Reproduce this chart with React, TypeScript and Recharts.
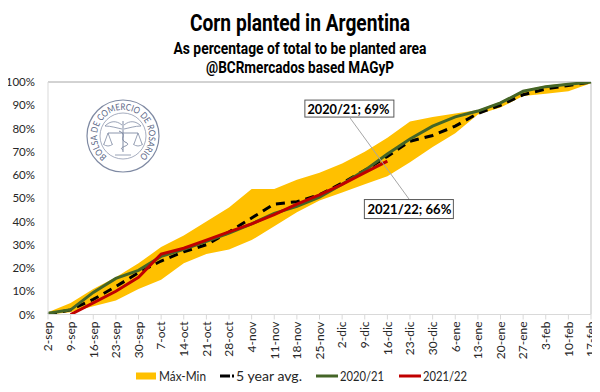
import React from 'react';
import { ComposedChart, Area, Line, XAxis, YAxis, ReferenceLine } from 'recharts';

const categories = ['2-sep','9-sep','16-sep','23-sep','30-sep','7-oct','14-oct','21-oct','28-oct','4-nov','11-nov','18-nov','25-nov','2-dic','9-dic','16-dic','23-dic','30-dic','6-ene','13-ene','20-ene','27-ene','3-feb','10-feb','17-feb'];
const maxValues = [1, 5, 11, 16, 22, 29, 34, 40, 46, 54, 54, 58, 61, 65, 70, 76, 83, 85, 86.5, 88, 91.5, 96.5, 98.5, 99.5, 100];
const minValues = [0, 1, 3.5, 6, 11, 15, 22, 26, 28, 32, 38, 44, 49, 52.5, 56, 59.5, 65.5, 72, 78, 86, 89, 94, 95, 96, 99.5];
const avgValues = [0, 2, 6.5, 12, 18, 23, 27, 30, 35.5, 41.5, 47.5, 48.5, 51.5, 56.5, 62, 68, 74.5, 77, 81, 86.5, 90, 94.5, 97, 98.5, 100];
const season2021 = [0.5, 2, 9.5, 15.5, 19, 25, 28, 31.5, 35, 39, 43.5, 46.5, 50.5, 56, 62, 69, 75.5, 81, 85, 87.5, 91, 96, 98, 99, 100];
const season2122: (number | null)[] = [null, 0, 5, 10, 16, 26, 28.5, 32, 35.5, 39, 43, 47.5, 51.5, 56, 61, 66, null, null, null, null, null, null, null, null, null];
const yTicks = [0, 10, 20, 30, 40, 50, 60, 70, 80, 90, 100];

const labelGreen = '2020/21; 69%';
const labelRed = '2021/22; 66%';

const data = categories.map((c, i) => ({
  label: c,
  range: [minValues[i], maxValues[i]],
  avg: avgValues[i],
  s2021: season2021[i],
  s2122: season2122[i],
}));

const ORANGE = '#FFC000';
const GREEN = '#446527';
const RED = '#C00000';
const FONT = 'Lato, "Open Sans", sans-serif';

const getXY = (p: any) => {
  const x = p.x ?? p.viewBox?.x;
  const y = p.y ?? p.viewBox?.y;
  return { x, y };
};

const GreenLabel = (p: any) => {
  if (p.value !== 69) return null;
  const { x, y } = getXY(p);
  if (x == null || y == null) return null;
  return (
    <g>
      <rect x={x - 82.5} y={y - 54} width={89} height={17} fill="#fff" stroke="#595959" strokeWidth={1} />
      <text x={x - 80} y={y - 40.5} fontFamily={FONT} fontWeight={700} fontSize={13} fill="#000" textLength={82} lengthAdjust="spacingAndGlyphs">{labelGreen}</text>
    </g>
  );
};

const RedLabel = (p: any) => {
  if (p.value !== 66) return null;
  const { x, y } = getXY(p);
  if (x == null || y == null) return null;
  return (
    <g>
      <line x1={x + 22} y1={y + 38.5} x2={x - 38} y2={y - 44} stroke="#A6A6A6" strokeWidth={1} />
      <rect x={x - 23} y={y + 38.5} width={89} height={19} fill="#fff" stroke="#595959" strokeWidth={1} />
      <text x={x - 20} y={y + 52.5} fontFamily={FONT} fontWeight={700} fontSize={13.5} fill="#000" textLength={84} lengthAdjust="spacingAndGlyphs">{labelRed}</text>
    </g>
  );
};

const XTick = (p: any) => {
  const { x, y, payload } = p;
  return (
    <g transform={`translate(${x},${y})`}>
      <text transform="rotate(-90)" x={0} y={0} dy="0.36em" textAnchor="end" fontFamily={FONT} fontSize={12} fill="#262626">
        {payload.value}
      </text>
    </g>
  );
};

const Logo = () => {
  const cx = 123, cy = 136, r = 26;
  const a = (142 * Math.PI) / 180;
  const sx = cx - Math.sin(a) * r, sy = cy - Math.cos(a) * r;
  const ex = cx + Math.sin(a) * r, ey = sy;
  const c = '#7f8aa3';
  return (
    <g>
      <defs>
        <path id="logoArc" d={`M ${sx} ${sy} A ${r} ${r} 0 1 1 ${ex} ${ey}`} />
      </defs>
      <circle cx={cx} cy={cy} r={36} fill="none" stroke={c} strokeWidth={1.2} />
      <circle cx={cx} cy={cy} r={23} fill="none" stroke={c} strokeWidth={0.7} />
      <text fontFamily={FONT} fontSize={9.2} fill="#5a6685">
        <textPath href="#logoArc" textLength={128} lengthAdjust="spacingAndGlyphs">BOLSA DE COMERCIO DE ROSARIO</textPath>
      </text>
      <line x1={cx} y1={cy - 15} x2={cx} y2={cy + 16} stroke={c} strokeWidth={1} />
      <path d={`M ${cx - 1} ${cy - 11} C ${cx - 7} ${cy - 16}, ${cx - 13} ${cy - 15}, ${cx - 18} ${cy - 10} C ${cx - 12} ${cy - 10}, ${cx - 6} ${cy - 8}, ${cx - 1} ${cy - 7}`} fill="none" stroke={c} strokeWidth={0.8} />
      <path d={`M ${cx + 1} ${cy - 11} C ${cx + 7} ${cy - 16}, ${cx + 13} ${cy - 15}, ${cx + 18} ${cy - 10} C ${cx + 12} ${cy - 10}, ${cx + 6} ${cy - 8}, ${cx + 1} ${cy - 7}`} fill="none" stroke={c} strokeWidth={0.8} />
      <line x1={cx - 15} y1={cy - 3} x2={cx + 15} y2={cy - 3} stroke={c} strokeWidth={0.9} />
      <path d={`M ${cx - 15} ${cy - 3} L ${cx - 19} ${cy + 8} M ${cx - 15} ${cy - 3} L ${cx - 11} ${cy + 8} M ${cx - 20} ${cy + 8} Q ${cx - 15} ${cy + 12} ${cx - 10} ${cy + 8}`} fill="none" stroke={c} strokeWidth={0.8} />
      <path d={`M ${cx + 15} ${cy - 3} L ${cx + 11} ${cy + 8} M ${cx + 15} ${cy - 3} L ${cx + 19} ${cy + 8} M ${cx + 10} ${cy + 8} Q ${cx + 15} ${cy + 12} ${cx + 20} ${cy + 8}`} fill="none" stroke={c} strokeWidth={0.8} />
      <path d={`M ${cx - 4} ${cy - 5} C ${cx + 6} ${cy - 1}, ${cx - 6} ${cy + 3}, ${cx + 4} ${cy + 7} C ${cx + 8} ${cy + 10}, ${cx - 6} ${cy + 11}, ${cx} ${cy + 14}`} fill="none" stroke={c} strokeWidth={1} />
      <line x1={cx - 8} y1={cy + 19} x2={cx + 8} y2={cy + 19} stroke={c} strokeWidth={0.8} />
    </g>
  );
};

const Overlay = () => (
  <svg width={600} height={392} style={{ position: 'absolute', left: 0, top: 0 }}>
    <rect x={0} y={0} width={600} height={392} fill="#fff" />
    <rect x={1} y={1} width={597} height={389} fill="none" stroke="#9a9a9a" strokeWidth={1.5} />
    <text x={300} y={30.5} textAnchor="middle" fontFamily="Roboto, sans-serif" fontWeight={700} fontSize={24} fill="#000" textLength={220} lengthAdjust="spacingAndGlyphs">Corn planted in Argentina</text>
    <text x={300} y={54.3} textAnchor="middle" fontFamily="Roboto, sans-serif" fontWeight={700} fontSize={17} fill="#000" textLength={253} lengthAdjust="spacingAndGlyphs">As percentage of total to be planted area</text>
    <text x={300} y={72.7} textAnchor="middle" fontFamily="Roboto, sans-serif" fontWeight={700} fontSize={17} fill="#000" textLength={188} lengthAdjust="spacingAndGlyphs">@BCRmercados based MAGyP</text>
    <Logo />
    <g fontFamily={FONT} fontSize={13} fill="#262626">
      <rect x={136} y={372.5} width={20} height={7} fill={ORANGE} />
      <text x={159} y={380.5} textLength={47} lengthAdjust="spacingAndGlyphs">Máx-Min</text>
      <line x1={220} y1={376} x2={234} y2={376} stroke="#000" strokeWidth={3} strokeDasharray="10 2" />
      <text x={236} y={380.5} textLength={66} lengthAdjust="spacingAndGlyphs">5 year avg.</text>
      <line x1={316} y1={376} x2={338} y2={376} stroke={GREEN} strokeWidth={3} />
      <text x={340} y={380.5} textLength={44} lengthAdjust="spacingAndGlyphs">2020/21</text>
      <line x1={399} y1={376} x2={421} y2={376} stroke={RED} strokeWidth={3} />
      <text x={423} y={380.5} textLength={44} lengthAdjust="spacingAndGlyphs">2021/22</text>
    </g>
  </svg>
);

export default function App() {
  return (
    <div style={{ position: 'relative', width: 600, height: 392, margin: -8, overflow: 'hidden', background: '#fff' }}>
      <Overlay />
      <div style={{ position: 'absolute', left: 0, top: 0 }}>
        <ComposedChart width={600} height={392} data={data} margin={{ top: 82, right: 9, left: 8, bottom: 0 }}>
          <XAxis
            dataKey="label"
            scale="point"
            padding={{ left: 0, right: 0 }}
            interval={0}
            height={77.5}
            tick={<XTick />}
            tickSize={5}
            tickMargin={2}
            axisLine={{ stroke: '#D9D9D9' }}
            tickLine={{ stroke: '#D9D9D9' }}
          />
          <YAxis
            domain={[0, 100]}
            ticks={yTicks}
            width={40}
            tickFormatter={(v: number) => `${v}%`}
            tick={{ fontFamily: FONT, fontSize: 11.5, fill: '#262626' }}
            tickLine={false}
            tickSize={0}
            tickMargin={13}
            axisLine={{ stroke: '#D9D9D9' }}
            allowDataOverflow
          />
          <ReferenceLine y={100} stroke="#A6A6A6" strokeWidth={1} ifOverflow="visible" />
          <ReferenceLine x="17-feb" stroke="#BFBFBF" strokeWidth={1} ifOverflow="visible" />
          <Area dataKey="range" type="linear" stroke="none" fill={ORANGE} fillOpacity={1} isAnimationActive={false} />
          <Line dataKey="avg" type="linear" stroke="#000" strokeWidth={3} strokeDasharray="9 6" dot={false} isAnimationActive={false} />
          <Line dataKey="s2021" type="linear" stroke={GREEN} strokeWidth={3} dot={false} isAnimationActive={false} label={GreenLabel} />
          <Line dataKey="s2122" type="linear" stroke={RED} strokeWidth={3} dot={false} isAnimationActive={false} label={RedLabel} />
        </ComposedChart>
      </div>
    </div>
  );
}
